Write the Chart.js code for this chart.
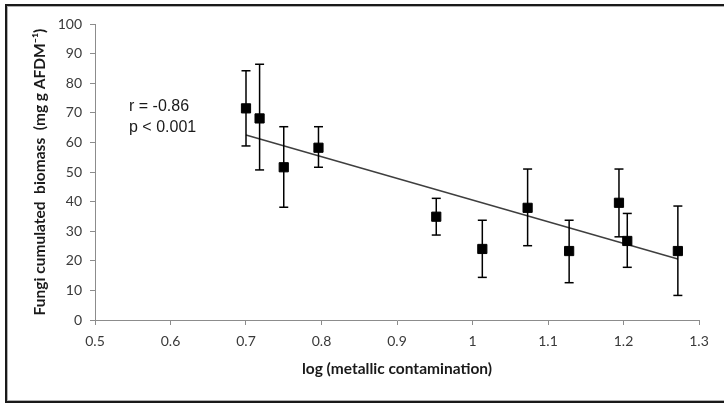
<!DOCTYPE html>
<html>
<head>
<meta charset="utf-8">
<script src="https://cdn.jsdelivr.net/npm/chart.js@4"></script>
<style>
  html, body { margin: 0; padding: 0; background: #fff; overflow: hidden; }
  #wrap { position: relative; width: 724px; height: 405px; }
  #frame { position: absolute; left: 5px; top: 4px; width: 800px; height: 395px;
           border: 2px solid #1a1a1a; box-shadow: inset 1px 1px 0 0 #b0b0b0, inset 0 -1px 0 0 #b0b0b0; }
  canvas { position: absolute; left: 0; top: 0; }
</style>
</head>
<body>
<div id="wrap">
  <div id="frame"></div>
  <canvas id="c" width="724" height="405"></canvas>
</div>
<script>
// ---- data ----
const contamination = [0.700, 0.718, 0.750, 0.796, 0.952, 1.013, 1.073, 1.128, 1.194, 1.205, 1.272];
const biomass       = [71.5, 68.1, 51.6, 58.2, 34.9, 24.0, 37.9, 23.3, 39.6, 26.7, 23.3];
const errLow        = [58.8, 50.7, 38.1, 51.6, 28.7, 14.4, 25.1, 12.6, 28.1, 17.8, 8.3];
const errHigh       = [84.2, 86.4, 65.3, 65.3, 41.1, 33.7, 51.0, 33.7, 51.0, 36.0, 38.5];
const trendX        = [0.700, 1.272];
const trendY        = [62.5, 20.6];
const xTickValues   = [0.5, 0.6, 0.7, 0.8, 0.9, 1.0, 1.1, 1.2, 1.3];
const xTickLabels   = ['0.5', '0.6', '0.7', '0.8', '0.9', '1', '1.1', '1.2', '1.3'];
const yTickLabels   = ['0', '10', '20', '30', '40', '50', '60', '70', '80', '90', '100'];
const statsText     = ['r = -0.86', 'p < 0.001'];

const points = contamination.map((x, i) => ({ x, y: biomass[i] }));
const errData = [];
contamination.forEach((x, i) => {
  errData.push({ x, y: errLow[i] }, { x, y: errHigh[i] }, { x, y: null });
});
const trendData = trendX.map((x, i) => ({ x, y: trendY[i] }));

const statsPlugin = {
  id: 'stats',
  afterDatasetsDraw(chart) {
    const ctx = chart.ctx;
    ctx.save();
    ctx.font = '16px "Liberation Sans", Arial, sans-serif';
    ctx.fillStyle = '#1a1a1a';
    ctx.textBaseline = 'alphabetic';
    ctx.textAlign = 'left';
    ctx.fillText(statsText[0], 129, 111);
    ctx.fillText(statsText[1], 129, 132);
    ctx.restore();
  }
};

const tickFont = { family: 'Lato, "Open Sans", sans-serif', size: 14 };
const axisColor = '#8c8c8c';

new Chart(document.getElementById('c'), {
  type: 'scatter',
  data: {
    datasets: [
      {
        label: 'trend',
        data: trendData,
        showLine: true,
        borderColor: '#3f3f3f',
        borderWidth: 1.5,
        pointRadius: 0,
        order: 3
      },
      {
        label: 'error',
        data: errData,
        showLine: true,
        spanGaps: false,
        borderColor: '#000',
        borderWidth: 1.5,
        pointStyle: 'line',
        pointRadius: 4.5,
        pointBorderWidth: 1.5,
        pointBorderColor: '#000',
        order: 2
      },
      {
        label: 'biomass',
        data: points,
        pointStyle: 'rect',
        pointRadius: 6.5,
        pointBackgroundColor: '#000',
        pointBorderColor: '#000',
        pointBorderWidth: 1,
        order: 1
      }
    ]
  },
  options: {
    responsive: false,
    animation: false,
    events: [],
    layout: { padding: { left: 0, right: 25, top: 24, bottom: 0 } },
    plugins: { legend: { display: false }, tooltip: { enabled: false } },
    scales: {
      x: {
        type: 'linear',
        min: 0.5, max: 1.3,
        afterBuildTicks(scale) { scale.ticks = xTickValues.map(v => ({ value: v })); },
        afterFit(scale) { scale.height = 85; },
        ticks: {
          callback: (v, i) => xTickLabels[i],
          font: tickFont, color: '#3a3a3a', padding: 8, maxRotation: 0, autoSkip: false
        },
        grid: { display: true, drawOnChartArea: false, drawTicks: true, tickLength: 5, color: axisColor },
        border: { display: true, color: axisColor, width: 1 },
        title: {
          display: true,
          text: 'log (metallic contamination)',
          font: { family: 'Lato, "Open Sans", sans-serif', size: 15.5, weight: 'bold' },
          color: '#1a1a1a',
          padding: { top: 0, bottom: 26.5 }
        }
      },
      y: {
        type: 'linear',
        min: 0, max: 100,
        ticks: {
          stepSize: 10,
          callback: (v, i) => yTickLabels[i],
          font: tickFont, color: '#3a3a3a', padding: 8
        },
        afterFit(scale) { scale.width = 95; },
        grid: { display: true, drawOnChartArea: false, drawTicks: true, tickLength: 5, color: axisColor },
        border: { display: true, color: axisColor, width: 1 },
        title: {
          display: true,
          text: 'Fungi cumulated  biomass  (mg g AFDM\u207B\u00B9)',
          font: { family: 'Lato, "Open Sans", sans-serif', size: 15.5, weight: 'bold' },
          color: '#1a1a1a',
          padding: { top: 30.5, bottom: 0 }
        }
      }
    }
  },
  plugins: [statsPlugin]
});
</script>
</body>
</html>
